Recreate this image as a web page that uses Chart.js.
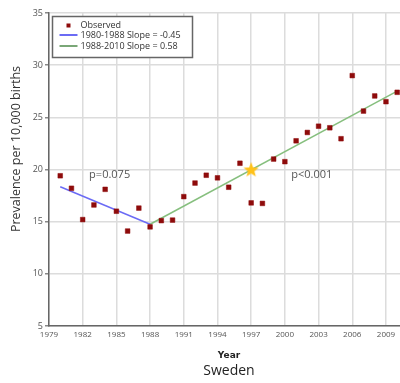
<!DOCTYPE html>
<html>
<head>
<meta charset="utf-8">
<script src="https://cdn.jsdelivr.net/npm/chart.js@4/dist/chart.umd.min.js"></script>
<style>
  html, body { margin: 0; padding: 0; background: #fff; }
  #wrap { width: 400px; height: 383px; }
</style>
</head>
<body>
<div id="wrap"><canvas id="c" width="400" height="383"></canvas></div>
<script>
// Observed prevalence per 10,000 births, Sweden
const years = [1980, 1981, 1982, 1983, 1984, 1985, 1986, 1987, 1988, 1989, 1990,
  1991, 1992, 1993, 1994, 1995, 1996, 1997, 1998, 1999, 2000,
  2001, 2002, 2003, 2004, 2005, 2006, 2007, 2008, 2009, 2010];
const prevalence = [19.4, 18.2, 15.2, 16.6, 18.1, 16.0, 14.1, 16.3, 14.5, 15.1, 15.15,
  17.4, 18.7, 19.45, 19.2, 18.3, 20.6, 16.8, 16.75, 21.0, 20.75,
  22.75, 23.55, 24.15, 24.0, 22.95, 29.0, 25.6, 27.05, 26.5, 27.4];

// Joinpoint trend segments (end points)
const seg1Years = [1980, 1988];
const seg1Values = [18.35, 14.75];
const seg2Years = [1988, 2010];
const seg2Values = [14.75, 27.51];

// Joinpoint marker
const markerYear = [1997];
const markerValue = [20];

const seriesLabels = ['Observed', '1980-1988 Slope = -0.45', '1988-2010 Slope = 0.58'];
const pLabels = ['p=0.075', 'p<0.001'];
const pLabelYears = [1984.4, 2002.4];
const pLabelValues = [19.5, 19.5];

const yTicks = [5, 10, 15, 20, 25, 30, 35];
const xTicks = [1979, 1982, 1985, 1988, 1991, 1994, 1997, 2000, 2003, 2006, 2009];
const yTitle = 'Prevalence per 10,000 births';
const xTitle = 'Year';
const countryTitle = 'Sweden';

const toPoints = (xs, ys) => xs.map((x, i) => ({ x: x, y: ys[i] }));

// gold five-pointed star used as the joinpoint symbol
function makeStar(size, color) {
  const cv = document.createElement('canvas');
  cv.width = size; cv.height = size;
  const g = cv.getContext('2d');
  const cx = size / 2, cy = size / 2 + 0.6, R = size / 2, r = R * 0.42;
  g.beginPath();
  for (let i = 0; i < 10; i++) {
    const rad = i % 2 === 0 ? R : r;
    const a = -Math.PI / 2 + i * Math.PI / 5;
    const px = cx + rad * Math.cos(a), py = cy + rad * Math.sin(a);
    if (i === 0) g.moveTo(px, py); else g.lineTo(px, py);
  }
  g.closePath();
  g.fillStyle = color;
  g.fill();
  return cv;
}
const starImg = makeStar(16, '#FFC21A');

const RED = '#8E0B0B';
const BLUE = '#6B6BF5';
const GREEN = '#86BF7E';

// legend box, captions and p-value annotations
const annotations = {
  id: 'annotations',
  afterDatasetsDraw(chart) {
    const { ctx, scales: { x, y } } = chart;
    ctx.save();
    ctx.font = '11px "Open Sans"';
    ctx.fillStyle = '#555';
    ctx.textAlign = 'center';
    ctx.textBaseline = 'middle';
    pLabels.forEach((t, i) => {
      ctx.fillText(t, x.getPixelForValue(pLabelYears[i]), y.getPixelForValue(pLabelValues[i]));
    });
    ctx.restore();
  },
  afterDraw(chart) {
    const { ctx, chartArea } = chart;
    // rotated y caption, sitting slightly above the plot's mid-height
    ctx.save();
    ctx.translate(16, 149);
    ctx.rotate(-Math.PI / 2);
    ctx.font = '12.5px "Open Sans"';
    ctx.fillStyle = '#333';
    ctx.textAlign = 'center';
    ctx.textBaseline = 'middle';
    ctx.fillText(yTitle, 0, 0);
    ctx.restore();

    // x caption and country name below the axis
    ctx.save();
    ctx.textAlign = 'center';
    ctx.textBaseline = 'middle';
    ctx.fillStyle = '#222';
    ctx.font = 'bold 9px "DejaVu Sans"';
    ctx.fillText(xTitle, 229, 356);
    ctx.font = '14px "Open Sans"';
    ctx.fillText(countryTitle, 229, 371);
    ctx.restore();

    const bx = chartArea.left + 3.5, by = chartArea.top + 3.5, bw = 140, bh = 41;
    ctx.save();
    ctx.fillStyle = '#fff';
    ctx.fillRect(bx, by, bw, bh);
    ctx.strokeStyle = '#666';
    ctx.lineWidth = 1.5;
    ctx.strokeRect(bx, by, bw, bh);
    ctx.font = '9px "Open Sans"';
    ctx.textBaseline = 'middle';
    ctx.textAlign = 'left';
    const rows = [by + 9, by + 18.5, by + 29.5];
    ctx.fillStyle = RED;
    ctx.fillRect(bx + 14, rows[0] - 2, 4, 4);
    ctx.lineWidth = 1.5;
    ctx.strokeStyle = '#3a3af0';
    ctx.beginPath(); ctx.moveTo(bx + 7, rows[1]); ctx.lineTo(bx + 25, rows[1]); ctx.stroke();
    ctx.strokeStyle = '#4e8a4a';
    ctx.beginPath(); ctx.moveTo(bx + 7, rows[2]); ctx.lineTo(bx + 25, rows[2]); ctx.stroke();
    ctx.fillStyle = '#333';
    seriesLabels.forEach((t, i) => ctx.fillText(t, bx + 28, rows[i]));
    ctx.restore();
  }
};

new Chart(document.getElementById('c'), {
  type: 'scatter',
  data: {
    datasets: [
      {
        label: seriesLabels[1],
        type: 'line',
        data: toPoints(seg1Years, seg1Values),
        borderColor: BLUE,
        borderWidth: 1.5,
        pointRadius: 0,
        fill: false,
        order: 3
      },
      {
        label: seriesLabels[2],
        type: 'line',
        data: toPoints(seg2Years, seg2Values),
        borderColor: GREEN,
        borderWidth: 1.5,
        pointRadius: 0,
        fill: false,
        order: 3
      },
      {
        label: seriesLabels[0],
        data: toPoints(years, prevalence),
        pointStyle: 'rect',
        pointRadius: 3.3,
        backgroundColor: RED,
        borderColor: RED,
        borderWidth: 0.5,
        order: 2
      },
      {
        label: 'Joinpoint',
        data: toPoints(markerYear, markerValue),
        pointStyle: starImg,
        order: 1
      }
    ]
  },
  options: {
    responsive: false,
    animation: false,
    events: [],
    layout: { autoPadding: false, padding: { top: 13, right: 0, left: 0, bottom: 20 } },
    plugins: {
      legend: { display: false },
      tooltip: { enabled: false },
      title: { display: false }
    },
    scales: {
      x: {
        type: 'linear',
        min: 1979,
        max: 2010.25,
        afterBuildTicks(scale) {
          scale.ticks = xTicks.map(v => ({ value: v }));
        },
        ticks: {
          color: '#555',
          font: { family: '"Open Sans"', size: 8 },
          padding: 4,
          maxRotation: 0,
          autoSkip: false,
          callback: v => String(v)
        },
        grid: { color: '#dcdcdc', lineWidth: 1.5, drawTicks: false },
        border: { color: '#666', width: 1.5 },
        title: { display: false },
        afterFit(scale) {
          scale.height = 37;
          scale.paddingLeft = 0;
          scale.paddingRight = 0;
        }
      },
      y: {
        type: 'linear',
        min: 5,
        max: 35,
        afterBuildTicks(scale) {
          scale.ticks = yTicks.map(v => ({ value: v }));
        },
        ticks: {
          color: '#555',
          font: { family: '"Open Sans"', size: 9 },
          padding: 2
        },
        grid: { color: '#dcdcdc', lineWidth: 1.5, tickLength: 4, tickColor: '#888' },
        border: { color: '#666', width: 1.5 },
        title: { display: false },
        afterFit(scale) {
          scale.width = 49;
          scale.paddingTop = 0;
          scale.paddingBottom = 0;
        }
      }
    }
  },
  plugins: [annotations]
});
</script>
</body>
</html>
